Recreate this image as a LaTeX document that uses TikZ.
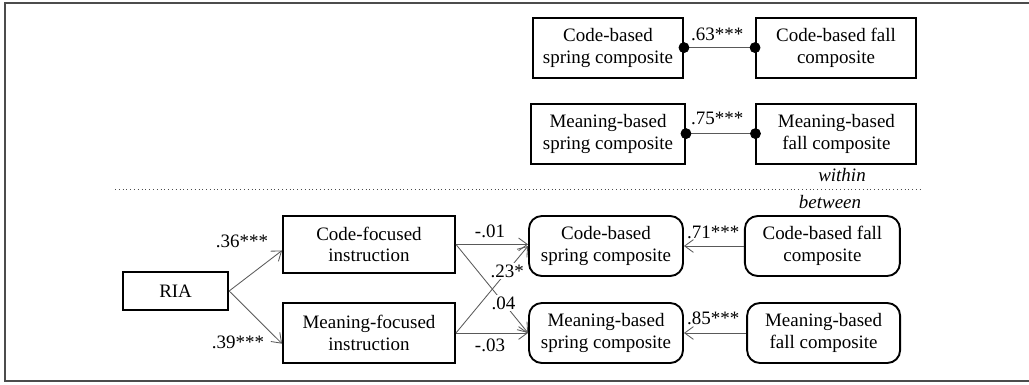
\documentclass[tikz,border=0pt]{standalone}
\usepackage{fontspec}
\setmainfont{Liberation Serif}
\usetikzlibrary{shapes, arrows.meta, positioning}
\tikzset{
    measure/.style={
        rectangle, draw=black, line width=1.35pt, align=center, text centered,
        minimum width=3.85cm, minimum height=1.5cm, inner sep=2pt
    },
    latent/.style={
        measure, rounded corners=0.32cm
    },
    path/.style={
        draw=black!65, line width=0.6pt, -{Straight Barb[length=2.2mm, width=3.2mm]}
    },
    corr/.style={
        draw=black!65, line width=0.6pt,
        {Circle[length=2.7mm, color=black]}-{Circle[length=2.7mm, color=black]},
        shorten <=-1.35mm, shorten >=-1.35mm
    },
    coef/.style={
        inner sep=1pt
    }
}
\begin{document}
\begin{tikzpicture}[font=\fontsize{13.5}{15.6}\selectfont]

    % Frame
    \useasboundingbox (0,0) rectangle (25.725,9.6);
    \draw[black!70, line width=1.2pt] (25.725,9.525) -- (0.125,9.525) -- (0.125,0.075) -- (25.725,0.075);

    % Within level
    \node[measure, minimum width=3.75cm] (wcs) at (15.2,8.41) {Code-based\\spring composite};
    \node[measure, minimum width=4cm] (wcf) at (20.9,8.41) {Code-based fall\\composite};
    \node[measure] (wms) at (15.2,6.26) {Meaning-based\\spring composite};
    \node[measure, minimum width=4cm] (wmf) at (20.91,6.26) {Meaning-based\\fall composite};

    \draw[corr] (wcs) -- (wcf);
    \draw[corr] (wms) -- (wmf);
    \node[coef] (r63) at (17.93,8.74) {.63***};
    \node[coef] (r75) at (17.93,6.63) {.75***};

    % Levels
    \draw[black!70, dotted, line width=0.7pt] (2.875,4.875) -- (23.05,4.875);
    \node[font=\fontsize{13.5}{15.6}\selectfont\itshape] (within) at (21.05,5.23) {within};
    \node[font=\fontsize{13.5}{15.6}\selectfont\itshape] (between) at (20.75,4.55) {between};

    % Between level
    \node[measure, minimum width=2.63cm, minimum height=0.95cm] (ria) at (4.39,2.325) {RIA};
    \node[measure, minimum width=4.3cm, minimum height=1.43cm] (cfi) at (9.225,3.49) {Code-focused\\instruction};
    \node[measure, minimum width=4.3cm] (mfi) at (9.225,1.275) {Meaning-focused\\instruction};
    \node[latent] (bcs) at (15.15,3.45) {Code-based\\spring composite};
    \node[latent, minimum width=3.875cm] (bcf) at (20.56,3.45) {Code-based fall\\composite};
    \node[latent] (bms) at (15.15,1.275) {Meaning-based\\spring composite};
    \node[latent, minimum width=3.825cm] (bmf) at (20.59,1.275) {Meaning-based\\fall composite};

    % Paths
    \draw[path] (ria.east) -- (cfi.184);
    \draw[path] (ria.east) -- (mfi.187);
    \draw[path] (cfi.east) -- (bcs.west |- cfi.east);
    \draw[path] (mfi.east) -- (bms.west |- mfi.east);
    \draw[path] (cfi.east) -- (bms.west) node[coef, fill=white, pos=0.66] (b04) {.04};
    \draw[path] (mfi.east) -- (bcs.west) node[coef, fill=white, pos=0.71] (b23) {.23*};
    \draw[path] (bcf) -- (bcs);
    \draw[path] (bmf) -- (bms);

    % Coefficients
    \node[coef] (b36) at (6.05,3.57) {.36***};
    \node[coef] (b39) at (5.95,1.03) {.39***};
    \node[coef] (b01) at (12.25,3.82) {-.01};
    \node[coef] (b03) at (12.25,0.97) {-.03};
    \node[coef] (b71) at (17.83,3.8) {.71***};
    \node[coef] (b85) at (17.83,1.65) {.85***};

\end{tikzpicture}
\end{document}
